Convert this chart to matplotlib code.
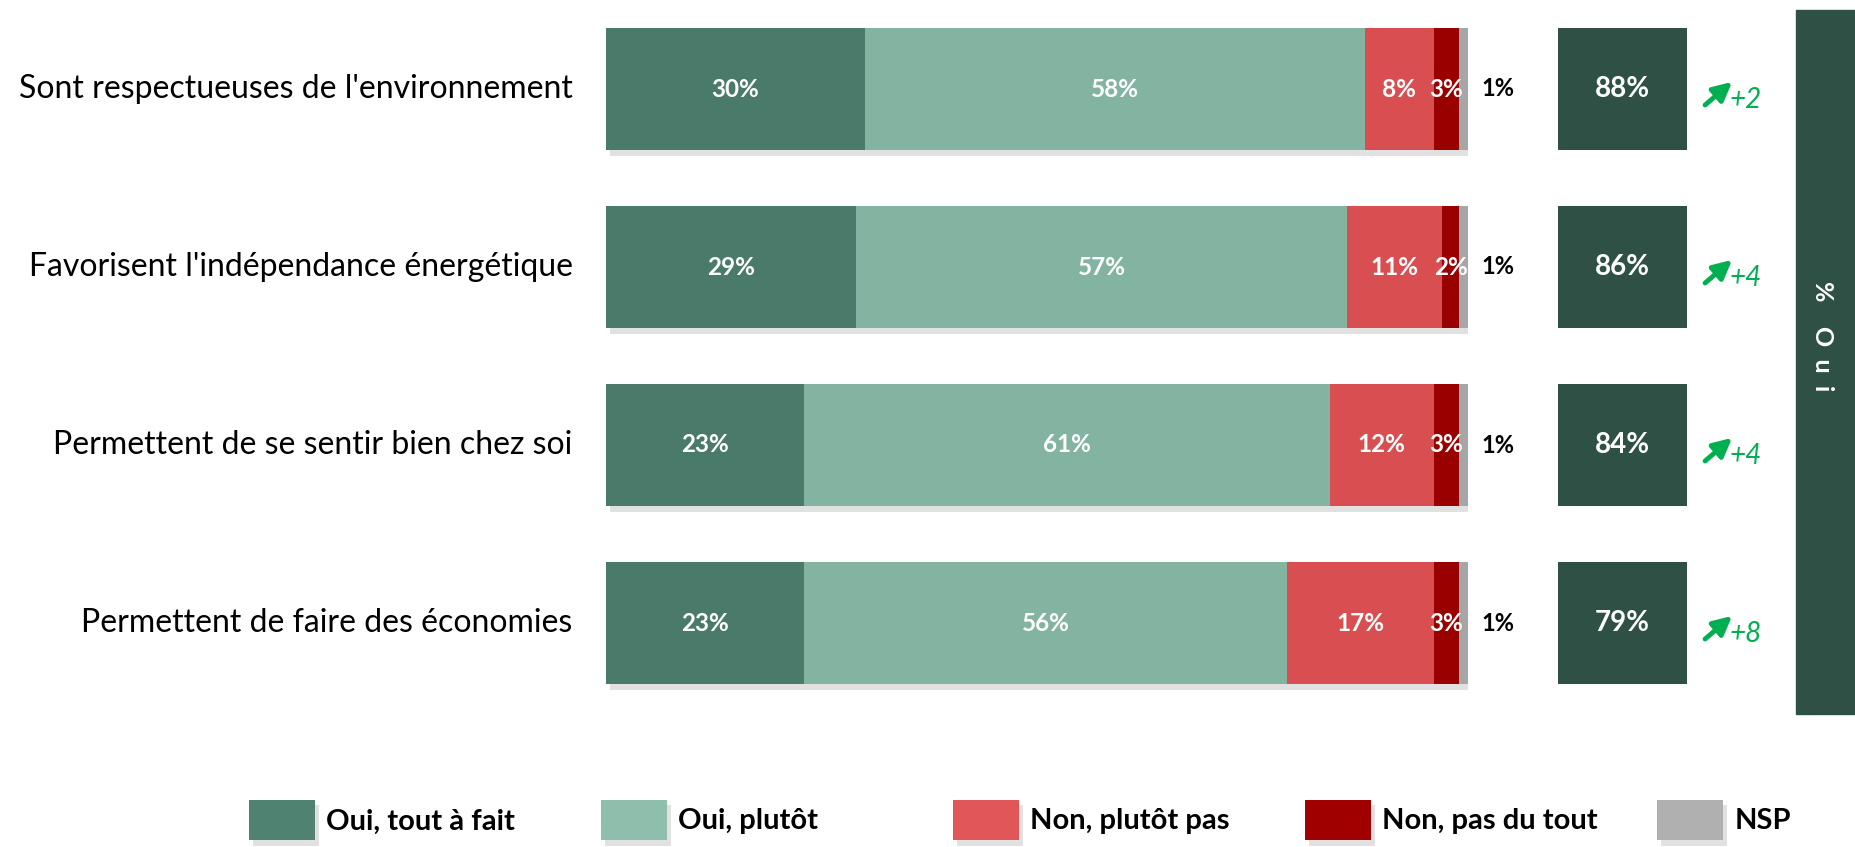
import matplotlib
matplotlib.use('Agg')
import matplotlib.pyplot as plt
import matplotlib.patheffects as pe
from matplotlib.patches import Patch, Rectangle
from matplotlib.transforms import blended_transform_factory

plt.rcParams['font.family'] = ['Lato', 'DejaVu Sans']

# data
items = ["Sont respectueuses de l'environnement",
         "Favorisent l'indépendance énergétique",
         "Permettent de se sentir bien chez soi",
         "Permettent de faire des économies"]
series = ['Oui, tout à fait', 'Oui, plutôt', 'Non, plutôt pas', 'Non, pas du tout', 'NSP']
tout_a_fait = [30, 29, 23, 23]
plutot = [58, 57, 61, 56]
plutot_pas = [8, 11, 12, 17]
pas_du_tout = [3, 2, 3, 3]
nsp = [1, 1, 1, 1]
total_oui = [88, 86, 84, 79]
evolution = ['+2', '+4', '+4', '+8']

bar_colors = ['#4A7A69', '#82B4A1', '#D94F51', '#990000', '#A6A6A6']
legend_colors = ['#4F8270', '#8DBFAC', '#E15656', '#A00000', '#B0B0B0']
box_color = '#2F5145'
green = '#00B050'

W, H = 1856, 847
fig = plt.figure(figsize=(W / 100, H / 100), dpi=100)

shadow = [pe.SimplePatchShadow(offset=(3, -4), shadow_rgbFace='#8a8a8a', alpha=0.25), pe.Normal()]

# stacked bars
ax = fig.add_axes([606 / W, (H - 712) / H, 862 / W, 712 / H])
ax.set_xlim(0, 100)
ax.set_ylim(3.5, -0.5)
ax.axis('off')

ypos = list(range(len(items)))
left = [0] * len(items)
data = [tout_a_fait, plutot, plutot_pas, pas_du_tout, nsp]
for k, vals in enumerate(data):
    bars = ax.barh(ypos, vals, left=left, height=0.69, color=bar_colors[k], linewidth=0)
    for b in bars:
        b.set_path_effects(shadow)
    if k < 4:
        ax.bar_label(bars, labels=[f'{v}%' for v in vals], label_type='center',
                     color='white', fontweight='bold', fontsize=17.5)
    else:
        ax.bar_label(bars, labels=[f'{v}%' for v in vals], label_type='edge',
                     padding=10, color='black', fontweight='bold', fontsize=17)
    left = [l + v for l, v in zip(left, vals)]

for i, lab in enumerate(items):
    ax.annotate(lab, xy=(0, i), xytext=(-24, 0), textcoords='offset points',
                ha='right', va='center', fontsize=23, color='black')

# "Oui" totals boxes
ax2 = fig.add_axes([1558 / W, (H - 712) / H, 129 / W, 712 / H], sharey=ax)
ax2.set_xlim(0, 1)
ax2.axis('off')
boxes = ax2.barh(ypos, [1] * len(items), height=0.69, color=box_color, linewidth=0)
ax2.bar_label(boxes, labels=[f'{v}%' for v in total_oui], label_type='center',
              color='white', fontweight='bold', fontsize=20)

tr = blended_transform_factory(ax2.transAxes, ax2.transData)
for i, ev in enumerate(evolution):
    ax2.annotate('', xy=(1.35, i - 0.04), xytext=(1.14, i + 0.09),
                 xycoords=tr, textcoords=tr, annotation_clip=False,
                 arrowprops=dict(arrowstyle='-|>', color=green, lw=3.5, mutation_scale=28,
                                 shrinkA=0, shrinkB=0))
    ax2.text(1.33, i + 0.06, ev, transform=tr, style='italic', color=green,
             fontsize=20, ha='left', va='center')

# vertical "% Oui" band
fig.patches.append(Rectangle((1796 / W, (H - 714) / H), 60 / W, 704 / H,
                             transform=fig.transFigure, color=box_color, zorder=0))
fig.text(1823 / W, 1 - 336 / H, '%    O  u  i', rotation=270, color='white',
         fontweight='bold', fontsize=18, ha='center', va='center')

# legend, evenly spaced entries
for i, (lab, col) in enumerate(zip(series, legend_colors)):
    leg = fig.legend(handles=[Patch(facecolor=col, linewidth=0)], labels=[lab],
                     loc='center left', bbox_to_anchor=((249 + i * 352) / W, 1 - 820 / H),
                     frameon=False, prop=dict(weight='bold', size=21),
                     handlelength=2.25, handleheight=1.75, handletextpad=0.4,
                     borderpad=0, borderaxespad=0)
    for p in leg.get_patches():
        p.set_path_effects(shadow)

fig.savefig('out.png', dpi=100)
